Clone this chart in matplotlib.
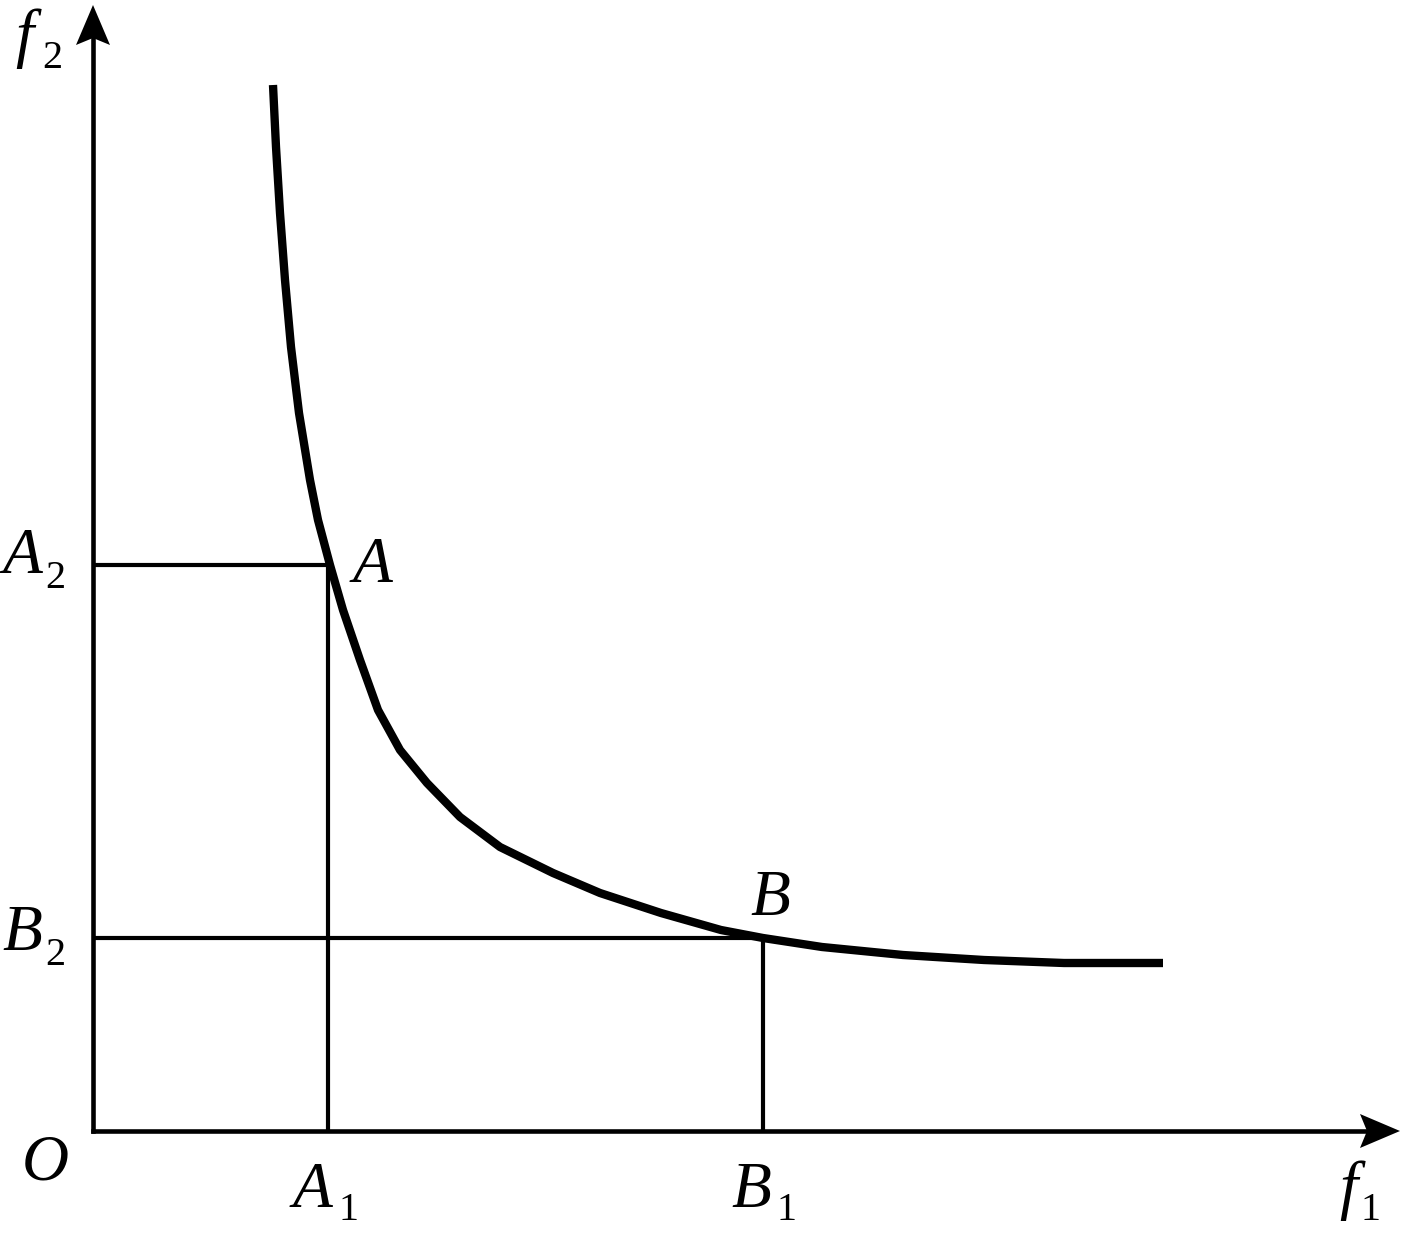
import matplotlib.pyplot as plt
import matplotlib.patches as patches

# Pareto front (f1, f2)
curve_f1 = [180, 183, 187, 192, 198, 206, 217, 225, 237, 250, 267, 285, 307,
            334, 367, 407, 460, 507, 568, 628, 670, 729, 810, 891, 971, 1070]
curve_f2 = [1046, 984, 918, 851, 784, 718, 651, 611, 566, 521, 471, 421, 381,
            348, 314, 284, 258, 238, 218, 201, 193, 184, 176, 171, 168, 168]

# marked solutions
point_A = (235, 566)
point_B = (670, 193)

x_end = 1307
y_end = 1126

fig = plt.figure(figsize=(14.02, 12.49), dpi=100)
ax = fig.add_axes([0, 0, 1, 1])
ax.set_xlim(-93, 1309)
ax.set_ylim(-118, 1131)
ax.axis('off')

# axes with notched arrow heads
ax.plot([0, x_end - 33], [0, 0], color='black', lw=3.3, solid_capstyle='projecting')
ax.plot([0, 0], [0, y_end - 33], color='black', lw=3.3, solid_capstyle='projecting')
ax.add_patch(patches.Polygon([[x_end, 0], [x_end - 40, 17], [x_end - 33, 0], [x_end - 40, -17]],
                             closed=True, fc='black', ec='none'))
ax.add_patch(patches.Polygon([[0, y_end], [-17, y_end - 40], [0, y_end - 33], [17, y_end - 40]],
                             closed=True, fc='black', ec='none'))

# projection lines
for px, py in (point_A, point_B):
    ax.plot([0, px], [py, py], color='black', lw=3.0, solid_capstyle='butt')
    ax.plot([px, px], [0, py], color='black', lw=3.0, solid_capstyle='butt')

# curve
ax.plot(curve_f1, curve_f2, color='black', lw=6, solid_capstyle='butt', solid_joinstyle='round')

FAM = 'Liberation Serif'

def label(x, y, main, sub=None, sx=None, sy=None):
    ax.text(x, y, main, fontsize=47, family=FAM, style='italic', ha='left', va='baseline')
    if sub:
        ax.text(sx, sy, sub, fontsize=29, family=FAM, ha='left', va='baseline')

label(-78, 1076, 'f', '2', -51, 1063)
label(-90, 558, 'A', '2', -48, 543)
label(-91, 181, 'B', '2', -48, 166)
label(260, 549, 'A')
label(657, 216, 'B')
label(-71, -48, 'O')
label(200, -76, 'A', '1', 246, -89)
label(638, -76, 'B', '1', 684, -89)
label(1246, -76, 'f', '1', 1268, -89)

plt.savefig('out.png', dpi=100)
plt.close()
